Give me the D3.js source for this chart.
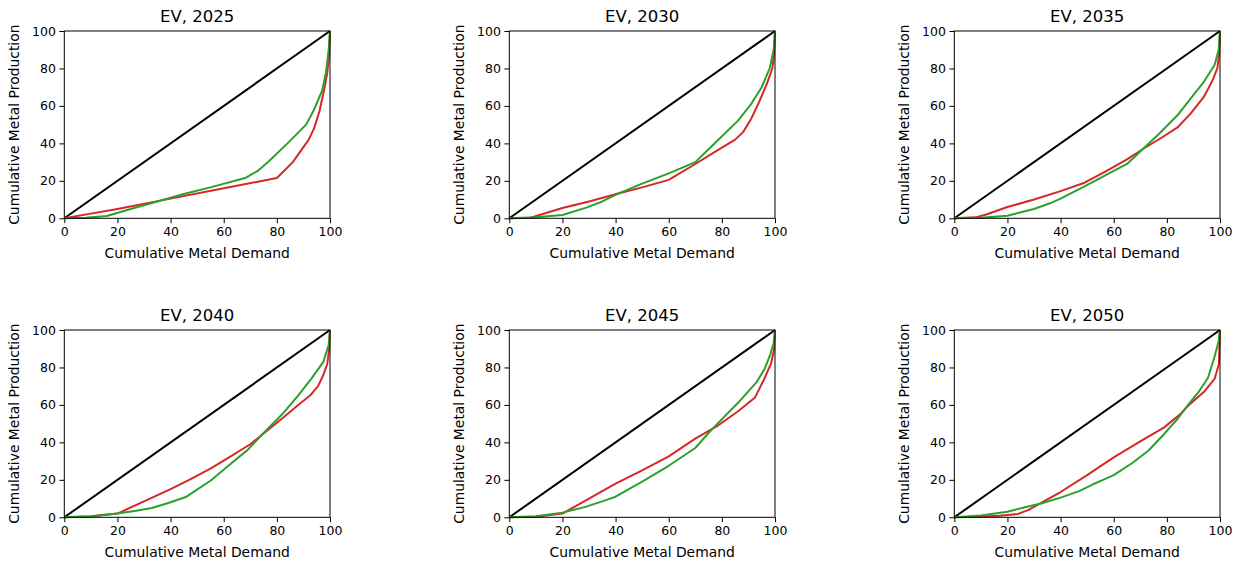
<!DOCTYPE html>
<html>
<head>
<meta charset="utf-8">
<script src="https://cdn.jsdelivr.net/npm/d3@7"></script>
<style>
  html, body { margin: 0; padding: 0; background: #fff; }
  svg { display: block; font-family: "DejaVu Sans", sans-serif; }
</style>
</head>
<body>
<svg id="chart" width="1244" height="567"></svg>
<script>
// ---- data (cumulative demand %, cumulative production %) ----
const years = [2025, 2030, 2035, 2040, 2045, 2050];
const tickValues = [0, 20, 40, 60, 80, 100];
const titlePrefix = "EV";
const xLabel = "Cumulative Metal Demand";
const yLabel = "Cumulative Metal Production";
const equality = [[0, 0], [100, 100]];

const red2025 = [[0,0],[10,2.5],[20,5],[40,10.5],[60,16],[80,21.5],[86,30],[92,42],[94,48],[96,57],[98,70],[99,78],[99.7,88],[100,100]];
const green2025 = [[0,0],[8,0.3],[16,1.2],[25,5],[35,9],[45,13],[55,16.5],[68,21.5],[73,25.5],[77,30.5],[84,40],[91,50],[94,58],[97,68],[98.5,78],[99.5,90],[100,100]];

const red2030 = [[0,0],[8,0.3],[20,5.5],[30,9],[41,13.2],[50,16.5],[60,20.5],[70,29],[78,36],[85,42],[88,46],[91,53],[94,62],[97,72],[99,80],[99.7,88],[100,100]];
const green2030 = [[0,0],[10,0.5],[20,1.8],[29,5.7],[35,9],[41,13.2],[50,18.5],[60,24],[70,30],[78,41],[86,52],[91,61],[95,70],[98,80],[99.5,90],[100,100]];

const red2035 = [[0,0],[8,0.5],[12,2],[20,6],[30,10],[40,14.5],[49,19],[57,25],[65,31.5],[71,37],[78,43],[84,48.5],[89,56],[94,65],[97,73],[99,80],[99.7,88],[100,100]];
const green2035 = [[0,0],[10,0.3],[20,1.4],[30,5],[36,8],[40,10.5],[49,17],[57,23],[65,29],[71,37],[77,45],[84,55],[89,64],[94,73],[98,82],[99.5,90],[100,100]];

const red2040 = [[0,0],[10,0.5],[20,2],[30,8.5],[40,15],[47,20],[55,26],[62,32],[70,39],[77,47],[83,54],[88,60],[92.5,65],[95.5,70],[97.5,76],[99,82],[99.7,90],[100,100]];
const green2040 = [[0,0],[10,0.4],[20,2],[27,3.5],[33,5],[40,8],[46,11],[55,19.5],[63,29],[69,36],[75,45],[82,55],[88,65],[93,74],[97.5,83],[99.5,92],[100,100]];

const red2045 = [[0,0],[10,0.3],[20,2],[30,10],[40,18],[50,25],[60,32.5],[70,42],[78,48.5],[86,56.5],[92.5,64],[96,74],[98.5,82],[99.7,90],[100,100]];
const green2045 = [[0,0],[10,0.5],[20,2.5],[29,5.7],[35,8.5],[40,11],[50,19],[60,27.5],[70,37],[75,45],[78,49.5],[86,61],[93,72],[96,79],[98,86],[99.5,93],[100,100]];

const red2050 = [[0,0],[10,0.3],[17,0.8],[24,1.8],[28,4],[33,8],[40,13.5],[50,22.5],[60,32],[70,40.5],[79,48],[85,55],[88,59.5],[94,67],[98,74],[99.6,82],[100,100]];
const green2050 = [[0,0],[10,1],[20,3],[27,5.5],[33,7.5],[40,10.5],[47,14],[52,17.5],[56,20],[60,22.5],[67,29],[73,35.5],[79,44.5],[84,52.5],[88,60],[92,67],[95.5,74.5],[98,86],[99.5,94],[100,100]];

const redSeries = [red2025, red2030, red2035, red2040, red2045, red2050];
const greenSeries = [green2025, green2030, green2035, green2040, green2045, green2050];

// ---- layout ----
const svg = d3.select("#chart");
const colLefts = [64.3, 509.3, 954.3];
const rowTops = [31, 330];
const plotW = 265.7, plotH = 187.3;
const redColor = "#d62728", greenColor = "#2ca02c";

years.forEach((yr, i) => {
  const col = i % 3, row = Math.floor(i / 3);
  const g = svg.append("g").attr("transform", `translate(${colLefts[col]},${rowTops[row]})`);
  const x = d3.scaleLinear().domain([0, 100]).range([0, plotW]);
  const y = d3.scaleLinear().domain([0, 100]).range([plotH, 0]);
  const line = d3.line().x(d => x(d[0])).y(d => y(d[1]));

  const clipId = "clip" + i;
  g.append("clipPath").attr("id", clipId).append("rect")
    .attr("x", -2).attr("y", -2).attr("width", plotW + 4).attr("height", plotH + 4);

  const plot = g.append("g").attr("clip-path", `url(#${clipId})`);
  plot.append("path").datum(equality).attr("d", line)
    .attr("fill", "none").attr("stroke", "#000").attr("stroke-width", 2);
  plot.append("path").datum(redSeries[i]).attr("d", line)
    .attr("fill", "none").attr("stroke", redColor).attr("stroke-width", 2).attr("stroke-linejoin", "round");
  plot.append("path").datum(greenSeries[i]).attr("d", line)
    .attr("fill", "none").attr("stroke", greenColor).attr("stroke-width", 2).attr("stroke-linejoin", "round");

  // frame
  g.append("rect").attr("x", 0).attr("y", 0).attr("width", plotW).attr("height", plotH)
    .attr("fill", "none").attr("stroke", "#000").attr("stroke-width", 1);

  const xAxis = g.append("g").attr("transform", `translate(0,${plotH})`)
    .call(d3.axisBottom(x).tickValues(tickValues).tickSize(4.9).tickPadding(3.5).tickFormat(d3.format("d")));
  const yAxis = g.append("g")
    .call(d3.axisLeft(y).tickValues(tickValues).tickSize(4.9).tickPadding(3.5).tickFormat(d3.format("d")));
  [xAxis, yAxis].forEach(a => {
    a.select(".domain").remove();
    a.selectAll(".tick line").attr("stroke", "#000").attr("stroke-width", 1);
    a.selectAll(".tick text").attr("fill", "#000").style("font-size", "12.5px")
      .style("font-family", "'DejaVu Sans', sans-serif");
  });

  g.append("text").attr("x", plotW / 2).attr("y", -9)
    .attr("text-anchor", "middle").style("font-size", "16.5px").attr("fill", "#000")
    .text(`${titlePrefix}, ${yr}`);
  g.append("text").attr("x", plotW / 2).attr("y", plotH + 40)
    .attr("text-anchor", "middle").style("font-size", "13.9px").attr("fill", "#000")
    .text(xLabel);
  g.append("text").attr("transform", `translate(-45,${plotH / 2}) rotate(-90)`)
    .attr("text-anchor", "middle").style("font-size", "13.9px").attr("fill", "#000")
    .text(yLabel);
});
</script>
</body>
</html>
